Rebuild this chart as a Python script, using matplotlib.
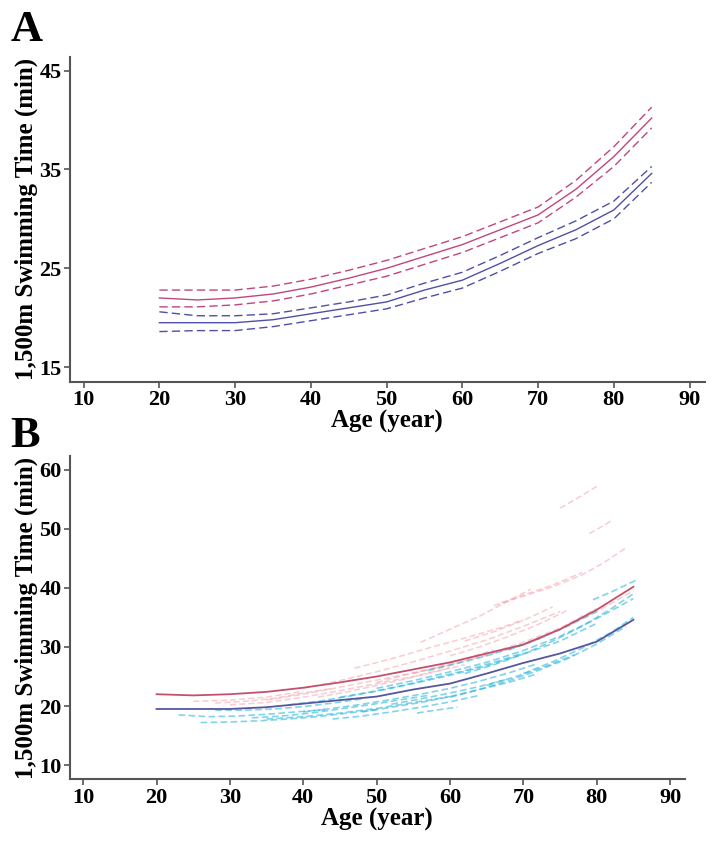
import numpy as np
import matplotlib.pyplot as plt

# --- panel A: fitted curves with 95% bands (min) ---
ages = [20, 25, 30, 35, 40, 45, 50, 55, 60, 65, 70, 75, 80, 85]

female_mid = [22.0, 21.8, 22.0, 22.4, 23.1, 24.0, 25.0, 26.2, 27.4, 28.9, 30.4, 33.0, 36.3, 40.2]
female_up = [22.8, 22.8, 22.8, 23.2, 23.9, 24.8, 25.8, 27.0, 28.2, 29.7, 31.2, 33.9, 37.3, 41.3]
female_lo = [21.1, 21.1, 21.3, 21.7, 22.4, 23.3, 24.2, 25.4, 26.6, 28.1, 29.6, 32.2, 35.3, 39.2]

male_mid = [19.5, 19.5, 19.5, 19.8, 20.4, 21.0, 21.6, 22.8, 23.8, 25.5, 27.3, 28.9, 30.9, 34.6]
male_up = [20.6, 20.2, 20.2, 20.4, 21.0, 21.6, 22.3, 23.5, 24.6, 26.3, 28.1, 29.8, 31.8, 35.3]
male_lo = [18.6, 18.7, 18.7, 19.1, 19.7, 20.3, 20.9, 22.0, 23.0, 24.7, 26.5, 28.0, 30.0, 33.7]

# --- panel B: individual swimmer trajectories ---
female_ind_ages = [
    [75, 77.5, 80],
    [79, 81, 82],
    [66, 70, 74, 78, 81, 84],
    [56, 60, 64, 68, 71],
    [47, 52, 57, 62, 67, 70],
    [40, 45, 50, 55, 60, 65, 70, 75],
    [35, 40, 45, 50, 55, 60, 65, 70, 75, 80, 85],
    [28, 32, 36, 40, 44],
    [42, 46, 50, 54, 58, 62],
    [60, 64, 68, 72, 76],
    [25, 30, 35, 40],
    [50, 54, 58, 62, 66],
    [67, 70, 74, 78],
    [30, 35, 40, 45, 50, 55, 60],
    [55, 60, 65, 70, 75, 80],
    [62, 66, 70, 74],
]
female_ind_times = [
    [53.5, 55.3, 57.2],
    [49.2, 50.6, 51.4],
    [37.0, 38.6, 40.2, 42.2, 44.3, 46.8],
    [30.8, 33.0, 35.2, 37.8, 39.8],
    [26.4, 28.0, 29.8, 31.5, 33.3, 34.6],
    [23.0, 24.3, 25.8, 27.5, 29.3, 31.2, 33.5, 36.0],
    [21.0, 22.0, 23.2, 24.4, 25.6, 27.0, 28.6, 30.5, 33.0, 36.0, 39.5],
    [20.5, 20.8, 21.3, 22.2, 23.0],
    [21.5, 22.4, 23.5, 24.6, 25.8, 27.0],
    [28.5, 30.0, 31.8, 33.8, 36.2],
    [20.8, 21.0, 21.5, 22.5],
    [24.0, 25.3, 26.5, 28.0, 29.5],
    [37.5, 38.8, 40.5, 42.6],
    [20.2, 20.6, 21.5, 22.6, 23.8, 25.0, 26.5],
    [25.5, 27.0, 28.8, 30.8, 33.2, 36.5],
    [31.0, 32.6, 34.5, 36.8],
]

male_ind_ages = [
    [23, 27, 31, 35, 39, 43],
    [26, 30, 34, 38, 42, 46, 50],
    [33, 37, 41, 45, 49, 53, 57],
    [40, 44, 48, 52, 56, 60, 64, 68, 72],
    [45, 50, 55, 60, 65, 70, 75, 80],
    [50, 55, 60, 65, 70, 75, 80, 85],
    [55.5, 58, 61],
    [79.5, 82.5, 85.5],
    [60, 64, 68, 72, 76, 80, 84],
    [35, 40, 45, 50, 55, 60],
    [62, 66, 70, 74, 78, 82, 85],
    [52, 56, 60, 64, 68],
    [65, 69, 73, 77],
    [28, 32, 36, 40, 44, 48],
    [44, 48, 52, 56, 60, 64],
    [68, 72, 76, 80],
    [57, 61, 65, 69, 73],
    [38, 42, 46, 50, 54, 58, 62, 66, 70],
    [48, 52, 56, 60, 64, 68, 72],
    [70, 74, 78, 82, 85],
]
male_ind_times = [
    [18.5, 18.2, 18.3, 18.6, 19.0, 19.4],
    [17.2, 17.3, 17.5, 17.8, 18.2, 18.8, 19.4],
    [18.0, 18.3, 18.8, 19.5, 20.2, 21.0, 21.8],
    [19.0, 19.6, 20.3, 21.1, 22.0, 23.0, 24.2, 25.6, 27.2],
    [21.5, 22.5, 23.8, 25.2, 26.8, 28.8, 31.0, 34.0],
    [23.0, 24.3, 25.8, 27.4, 29.4, 31.8, 34.8, 38.2],
    [18.8, 19.3, 19.8],
    [38.0, 39.6, 41.4],
    [21.5, 22.8, 24.3, 26.0, 28.0, 30.5, 33.5],
    [17.8, 18.2, 18.8, 19.6, 20.6, 21.6],
    [25.5, 27.0, 28.8, 31.0, 33.5, 36.5, 39.0],
    [20.3, 21.2, 22.2, 23.3, 24.6],
    [23.5, 25.0, 26.7, 28.7],
    [19.3, 19.3, 19.5, 19.9, 20.5, 21.2],
    [17.8, 18.3, 19.0, 19.8, 20.7, 21.8],
    [29.5, 31.3, 33.5, 36.0],
    [26.0, 27.2, 28.5, 30.0, 31.8],
    [20.2, 20.8, 21.6, 22.6, 23.6, 24.8, 26.0, 27.4, 29.0],
    [19.0, 19.8, 20.6, 21.6, 22.8, 24.0, 25.5],
    [25.5, 27.5, 29.8, 32.5, 35.0],
]

plt.rcParams['font.family'] = ['Liberation Serif', 'DejaVu Serif']
plt.rcParams['font.weight'] = 'bold'

fig = plt.figure(figsize=(7.14, 8.47), dpi=100)
axA = fig.add_axes([0.098, 0.549, 0.889, 0.384])
axB = fig.add_axes([0.098, 0.080, 0.861, 0.382])

f_col = '#c2457e'
m_col = '#4f4fa6'
dash = (0, (6, 3))

# panel A
axA.plot(ages, female_mid, color=f_col, lw=1.0)
axA.plot(ages, female_up, color=f_col, lw=1.0, linestyle=dash)
axA.plot(ages, female_lo, color=f_col, lw=1.0, linestyle=dash)
axA.plot(ages, male_mid, color=m_col, lw=1.0)
axA.plot(ages, male_up, color=m_col, lw=1.0, linestyle=dash)
axA.plot(ages, male_lo, color=m_col, lw=1.0, linestyle=dash)
axA.set_xlim(8.2, 92)
axA.set_ylim(13.5, 46.4)
axA.set_yticks([15, 25, 35, 45])

# panel B
for a, t in zip(female_ind_ages, female_ind_times):
    axB.plot(a, t, color='#f29aa4', lw=1.1, alpha=0.5, linestyle=(0, (4, 2)))
for a, t in zip(male_ind_ages, male_ind_times):
    axB.plot(a, t, color='#1eb0d8', lw=1.2, alpha=0.55, linestyle=(0, (4, 2)))
axB.plot(ages, female_mid, color='#c4506e', lw=1.3)
axB.plot(ages, male_mid, color='#5656a0', lw=1.3)
axB.set_xlim(8.2, 92)
axB.set_ylim(7.6, 62.4)
axB.set_yticks([10, 20, 30, 40, 50, 60])

for ax in (axA, axB):
    ax.set_xticks([10, 20, 30, 40, 50, 60, 70, 80, 90])
    for s in ('top', 'right'):
        ax.spines[s].set_visible(False)
    for s in ('left', 'bottom'):
        ax.spines[s].set_color('#555555')
        ax.spines[s].set_linewidth(1.5)
    ax.tick_params(colors='#555555', length=4, width=1.2, labelsize=16,
                   labelcolor='black', pad=2)
    for lbl in ax.get_xticklabels() + ax.get_yticklabels():
        lbl.set_fontweight('bold')
    ax.set_xlabel('Age (year)', fontsize=18, fontweight='bold', labelpad=0)
    ax.set_ylabel('1,500m Swimming Time (min)', fontsize=18, fontweight='bold', labelpad=1)

fig.text(0.015, 0.952, 'A', fontsize=32, fontweight='bold', va='baseline')
fig.text(0.015, 0.472, 'B', fontsize=32, fontweight='bold', va='baseline')

fig.savefig('out.png', dpi=100)
